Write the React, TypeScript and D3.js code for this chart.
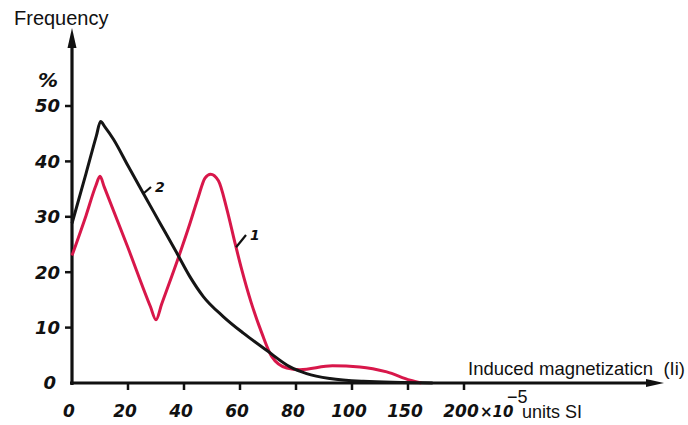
import React, { useRef, useEffect } from "react";
import * as d3 from "d3";

// curve 1 (red) and curve 2 (black): [induced magnetization, frequency %]
const curve1: [number, number][] = [
  [0, 23], [5, 30.2], [8.5, 35.6], [10, 37.3], [11.5, 35.4], [20, 24.4],
  [28, 13.8], [30, 11.4], [32, 14.2], [38.6, 23.5], [42, 28.6], [45, 33.4],
  [47.5, 37], [49.5, 37.7], [52.3, 36.5], [55.3, 31.4], [58.2, 25.3],
  [60.6, 20.5], [64, 14.5], [67.8, 9], [71.3, 4.8], [76.7, 2.7], [81.4, 2.4],
  [93, 3.1], [107, 2.9], [131, 2], [152, 0.5], [162, 0],
];
const curve2: [number, number][] = [
  [0, 28.8], [5, 37.8], [8.7, 44.6], [10.2, 47.2], [11.8, 46.2], [14.8, 44],
  [20, 39.2], [25.5, 34.2], [31.4, 28.9], [37.4, 23.5], [42.1, 19.2],
  [46.9, 15.6], [54, 12], [61.2, 9], [69.5, 5.9], [77.9, 2.9], [83.8, 1.7],
  [92.1, 0.8], [110, 0.3], [172, 0],
];
const yTicks = [0, 10, 20, 30, 40, 50];
const xTicks = [0, 20, 40, 60, 80, 100, 150, 200];

const handFont = "'DejaVu Sans', sans-serif";
const typeFont = "'Liberation Sans', Arial, sans-serif";

const App = () => {
  const svgRef = useRef<SVGSVGElement>(null);

  useEffect(() => {
    if (!svgRef.current) return;
    const width = 688;
    const height = 425;
    const svg = d3.select(svgRef.current).attr("width", width).attr("height", height);
    svg.selectAll("*").remove();

    svg.append("rect").attr("width", width).attr("height", height).attr("fill", "#fff");

    // the axis labels are not evenly spaced past 100
    const x = d3.scaleLinear().domain([0, 100, 150, 200]).range([72, 352, 408, 464]);
    const y = d3.scaleLinear().domain([0, 50]).range([383, 106]);
    const x0 = x(0);
    const y0 = y(0);

    // axes with arrow heads
    svg.append("line").attr("x1", x0).attr("x2", x0).attr("y1", y0 + 2).attr("y2", 40)
      .attr("stroke", "#111").attr("stroke-width", 3.2);
    svg.append("path").attr("d", `M${x0},28 L${x0 - 4.5},48 L${x0 + 4.5},48 Z`).attr("fill", "#111");
    svg.append("line").attr("x1", x0 - 2).attr("x2", 650).attr("y1", y0).attr("y2", y0)
      .attr("stroke", "#111").attr("stroke-width", 3.2);
    svg.append("path").attr("d", `M664,${y0} L646,${y0 - 4} L646,${y0 + 4} Z`).attr("fill", "#111");

    // y ticks
    const yAxis = svg.append("g");
    yTicks.forEach((t) => {
      if (t > 0) {
        yAxis.append("line").attr("x1", x0 - 7).attr("x2", x0).attr("y1", y(t)).attr("y2", y(t))
          .attr("stroke", "#111").attr("stroke-width", 2.5);
      }
      yAxis.append("text").attr("x", t === 0 ? 56 : 60).attr("y", y(t)).attr("dy", "0.35em")
        .attr("text-anchor", "end").style("font-family", handFont).style("font-weight", "bold")
        .style("font-style", "italic").style("font-size", "18px").attr("fill", "#111").text(t);
    });
    svg.append("text").attr("x", 48).attr("y", 87).attr("text-anchor", "middle")
      .style("font-family", handFont).style("font-weight", "bold").style("font-style", "italic")
      .style("font-size", "20px").attr("fill", "#111").text("%");

    // x ticks
    const xAxis = svg.append("g");
    xTicks.forEach((t) => {
      if (t > 0) {
        xAxis.append("line").attr("x1", x(t)).attr("x2", x(t)).attr("y1", y0).attr("y2", y0 + 7)
          .attr("stroke", "#111").attr("stroke-width", 2.5);
      }
      xAxis.append("text").attr("x", x(t) - 3).attr("y", 417).attr("text-anchor", "middle")
        .style("font-family", handFont).style("font-weight", "bold").style("font-style", "italic")
        .style("font-size", "17px").attr("fill", "#111").text(t);
    });
    svg.append("text").attr("x", 480).attr("y", 417)
      .style("font-family", handFont).style("font-weight", "bold").style("font-style", "italic")
      .style("font-size", "15px").attr("fill", "#111").text("×10");
    svg.append("text").attr("x", 507).attr("y", 403)
      .style("font-family", typeFont).style("font-size", "18px").attr("fill", "#111").text("−5");
    svg.append("text").attr("x", 522).attr("y", 418)
      .style("font-family", typeFont).style("font-size", "18px").attr("fill", "#111").text("units SI");

    // titles
    svg.append("text").attr("x", 14).attr("y", 25)
      .style("font-family", typeFont).style("font-size", "20px").attr("fill", "#111").text("Frequency");
    svg.append("text").attr("x", 468).attr("y", 375)
      .style("font-family", typeFont).style("font-size", "18.5px").attr("fill", "#111")
      .attr("xml:space", "preserve").text("Induced magnetizaticn  (Ii)");

    // curves
    const line = d3.line<[number, number]>()
      .x((d) => x(d[0]))
      .y((d) => y(d[1]))
      .curve(d3.curveMonotoneX);
    svg.append("path").datum(curve1).attr("d", line).attr("fill", "none")
      .attr("stroke", "#d8174a").attr("stroke-width", 3).attr("stroke-linejoin", "round");
    svg.append("path").datum(curve2).attr("d", line).attr("fill", "none")
      .attr("stroke", "#151515").attr("stroke-width", 3).attr("stroke-linejoin", "round");

    // curve number labels with leader lines
    const labelAt = (px: number, py: number, lx: number, ly: number, s: string) => {
      svg.append("line").attr("x1", px).attr("y1", py).attr("x2", lx - 4).attr("y2", ly - 5)
        .attr("stroke", "#111").attr("stroke-width", 2.2);
      svg.append("text").attr("x", lx).attr("y", ly)
        .style("font-family", handFont).style("font-weight", "bold").style("font-style", "italic")
        .style("font-size", "14px").attr("fill", "#111").text(s);
    };
    labelAt(x(25.5), y(34.2), 155, 192, "2");
    labelAt(x(58.6), y(24.5), 250, 240, "1");
  }, []);

  return <svg ref={svgRef} style={{ position: "absolute", left: 0, top: 0 }}></svg>;
};

export default App;
